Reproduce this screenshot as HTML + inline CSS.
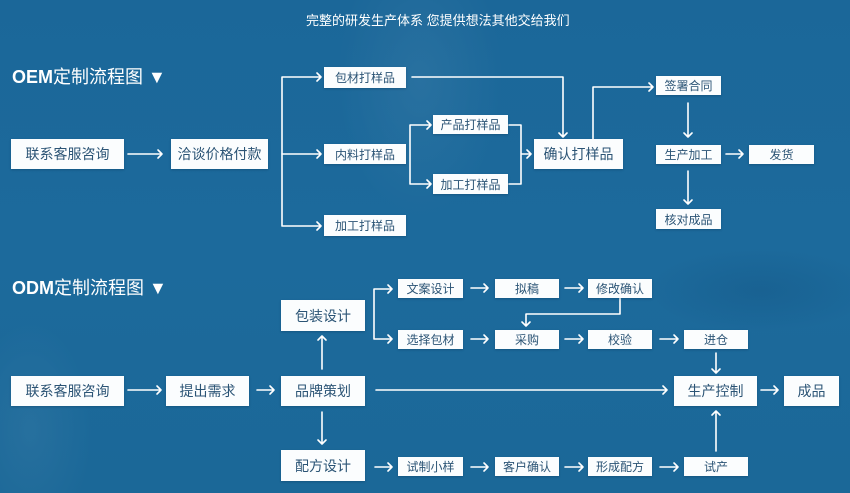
<!DOCTYPE html>
<html><head><meta charset="utf-8">
<style>
html,body{margin:0;padding:0;}
body{width:850px;height:493px;overflow:hidden;position:relative;
background:
 radial-gradient(ellipse 120px 200px at 420px 80px, rgba(255,255,255,0.06), rgba(255,255,255,0) 70%),
 radial-gradient(ellipse 90px 160px at 30px 430px, rgba(255,255,255,0.05), rgba(255,255,255,0) 70%),
 radial-gradient(ellipse 160px 60px at 760px 290px, rgba(0,40,80,0.12), rgba(0,0,0,0) 70%),
 linear-gradient(180deg,#1b6799 0%,#1c6a9c 50%,#1b6898 100%);
font-family:"Liberation Sans","Noto Sans CJK SC",sans-serif;}
.b{position:absolute;background:#fbfdfe;color:#2b5475;display:flex;align-items:center;justify-content:center;white-space:nowrap;box-shadow:0 1px 2px rgba(0,30,60,0.25);}
.l{font-size:14px;}
.s{font-size:12px;}
.h{position:absolute;color:#fff;font-size:18px;white-space:nowrap;line-height:20px;}
.h b{font-weight:bold;}
.t{position:absolute;left:306px;top:12px;color:#fff;font-size:13px;line-height:18px;white-space:nowrap;}
svg{position:absolute;left:0;top:0;}
</style></head><body>
<div class="t">完整的研发生产体系 您提供想法其他交给我们</div>
<div class="h" style="left:12px;top:67px;"><b>OEM</b>定制流程图 ▼</div>
<div class="h" style="left:12px;top:278px;"><b>ODM</b>定制流程图 ▼</div>

<svg width="850" height="493" viewBox="0 0 850 493" fill="none" stroke="#fff" stroke-width="1.6" stroke-linecap="round" stroke-linejoin="round">
<!-- OEM -->
<path d="M128 154H162M158 150L162 154L158 158"/>
<path d="M321 77H282V226H321M317 73L321 77L317 81M317 222L321 226L317 230"/>
<path d="M282 154H321M317 150L321 154L317 158"/>
<path d="M412 77H563V137M559 133L563 137L567 133"/>
<path d="M431 125H410V184H431M427 121L431 125L427 129M427 180L431 184L427 188"/>
<path d="M509 125H521V184H509M521 154H531M527 150L531 154L527 158"/>
<path d="M593 139V87H653M649 83L653 87L649 91"/>
<path d="M688 103V137M684 133L688 137L692 133"/>
<path d="M726 154H743M739 150L743 154L739 158"/>
<path d="M688 171V204M684 200L688 204L692 200"/>
<!-- ODM -->
<path d="M128 390H161M157 386L161 390L157 394"/>
<path d="M257 390H274M270 386L274 390L270 394"/>
<path d="M322 369V336M318 340L322 336L326 340"/>
<path d="M322 412V444M318 440L322 444L326 440"/>
<path d="M392 289H374V339H392M388 285L392 289L388 293M388 335L392 339L388 343"/>
<path d="M375 467H392M388 463L392 467L388 471"/>
<path d="M376 390H667M663 386L667 390L663 394"/>
<path d="M471 288H488M484 284L488 288L484 292"/>
<path d="M565 288H583M579 284L583 288L579 292"/>
<path d="M620 298V314H526V326M522 322L526 326L530 322"/>
<path d="M471 339H488M484 335L488 339L484 343"/>
<path d="M565 339H583M579 335L583 339L579 343"/>
<path d="M660 339H678M674 335L678 339L674 343"/>
<path d="M716 353V373M712 369L716 373L720 369"/>
<path d="M761 390H778M774 386L778 390L774 394"/>
<path d="M716 451V411M712 415L716 411L720 415"/>
<path d="M471 467H488M484 463L488 467L484 471"/>
<path d="M565 467H583M579 463L583 467L579 471"/>
<path d="M660 467H678M674 463L678 467L674 471"/>
</svg>

<!-- OEM boxes -->
<div class="b l" style="left:11px;top:139px;width:113px;height:30px;">联系客服咨询</div>
<div class="b l" style="left:171px;top:139px;width:97px;height:30px;">洽谈价格付款</div>
<div class="b s" style="left:324px;top:67px;width:82px;height:21px;">包材打样品</div>
<div class="b s" style="left:324px;top:144px;width:82px;height:20px;">内料打样品</div>
<div class="b s" style="left:324px;top:215px;width:82px;height:21px;">加工打样品</div>
<div class="b s" style="left:433px;top:115px;width:75px;height:19px;">产品打样品</div>
<div class="b s" style="left:433px;top:174px;width:75px;height:20px;">加工打样品</div>
<div class="b l" style="left:534px;top:139px;width:89px;height:30px;">确认打样品</div>
<div class="b s" style="left:656px;top:76px;width:65px;height:19px;">签署合同</div>
<div class="b s" style="left:656px;top:145px;width:65px;height:19px;">生产加工</div>
<div class="b s" style="left:749px;top:145px;width:65px;height:19px;">发货</div>
<div class="b s" style="left:656px;top:209px;width:65px;height:20px;">核对成品</div>

<!-- ODM boxes -->
<div class="b l" style="left:11px;top:376px;width:113px;height:30px;">联系客服咨询</div>
<div class="b l" style="left:166px;top:376px;width:83px;height:30px;">提出需求</div>
<div class="b l" style="left:281px;top:376px;width:84px;height:30px;">品牌策划</div>
<div class="b l" style="left:281px;top:300px;width:84px;height:31px;">包装设计</div>
<div class="b l" style="left:281px;top:450px;width:84px;height:31px;">配方设计</div>
<div class="b s" style="left:398px;top:279px;width:65px;height:19px;">文案设计</div>
<div class="b s" style="left:495px;top:279px;width:64px;height:19px;">拟稿</div>
<div class="b s" style="left:588px;top:279px;width:64px;height:19px;">修改确认</div>
<div class="b s" style="left:398px;top:330px;width:65px;height:19px;">选择包材</div>
<div class="b s" style="left:495px;top:330px;width:64px;height:19px;">采购</div>
<div class="b s" style="left:588px;top:330px;width:64px;height:19px;">校验</div>
<div class="b s" style="left:684px;top:330px;width:64px;height:19px;">进仓</div>
<div class="b l" style="left:674px;top:376px;width:83px;height:30px;">生产控制</div>
<div class="b l" style="left:784px;top:376px;width:55px;height:30px;">成品</div>
<div class="b s" style="left:398px;top:457px;width:65px;height:19px;">试制小样</div>
<div class="b s" style="left:495px;top:457px;width:64px;height:19px;">客户确认</div>
<div class="b s" style="left:588px;top:457px;width:64px;height:19px;">形成配方</div>
<div class="b s" style="left:684px;top:457px;width:64px;height:19px;">试产</div>
</body></html>
